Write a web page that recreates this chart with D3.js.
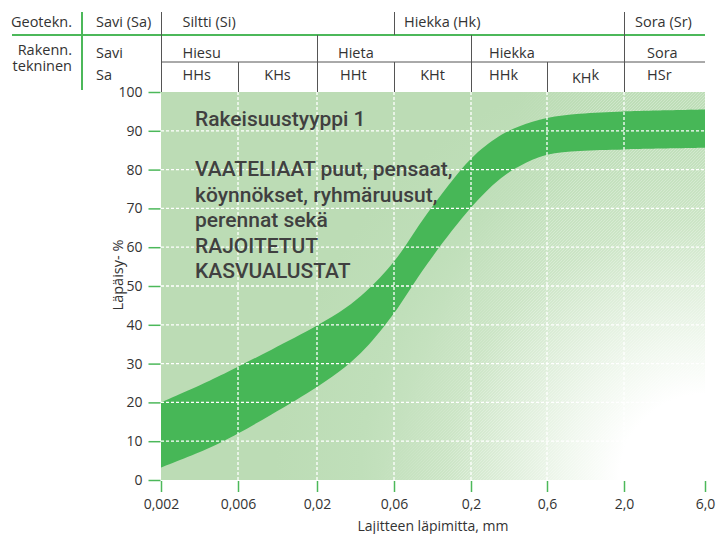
<!DOCTYPE html>
<html>
<head>
<meta charset="utf-8">
<script src="https://cdn.jsdelivr.net/npm/d3@7/dist/d3.min.js"></script>
<style>
body { margin: 0; background: #fff; }
svg text { font-family: "Open Sans", sans-serif; fill: #333; }
.info { font-family: Roboto, sans-serif; font-size: 21px; font-weight: 500; fill: #404040; }
</style>
</head>
<body>
<div class="chart"></div>
<script>
var width = 718;
var height = 534;

// grain size (mm) and passing percent for the band edges
var sizes = [0.002, 0.004, 0.006, 0.01, 0.02, 0.03, 0.04, 0.06, 0.1, 0.2, 0.3, 0.4, 0.6, 1, 2, 6];
var upper = [20, 25.6, 29.2, 33.6, 39.8, 44.3, 48.5, 56.3, 68.5, 82.8, 88.6, 91.1, 93.3, 94.4, 95, 95.5];
var lower = [3.2, 8.3, 12, 16.9, 24, 29.2, 34, 43, 55.5, 70.2, 77.4, 80.8, 83.8, 84.8, 85.2, 85.6];

var xTicks = [0.002, 0.006, 0.02, 0.06, 0.2, 0.6, 2, 6];
var xTickLabels = ["0,002", "0,006", "0,02", "0,06", "0,2", "0,6", "2,0", "6,0"];
var yTicks = [0, 10, 20, 30, 40, 50, 60, 70, 80, 90, 100];

var geoRow = [
	["Siltti (Si)", 0.002, 0.06],
	["Hiekka (Hk)", 0.06, 2],
	["Sora (Sr)", 2, 6]
];
var rakRow = [
	["Hiesu", 0.002, 0.02],
	["Hieta", 0.02, 0.2],
	["Hiekka", 0.2, 2],
	["Sora", 2, 6]
];
var subRow = [
	["HHs", 0.002, 0.006],
	["KHs", 0.006, 0.02],
	["HHt", 0.02, 0.06],
	["KHt", 0.06, 0.2],
	["HHk", 0.2, 0.6],
	["KHk", 0.6, 2],
	["HSr", 2, 6]
];

var infoLines = [
	"Rakeisuustyyppi 1",
	"",
	"VAATELIAAT puut, pensaat,",
	"köynnökset, ryhmäruusut,",
	"perennat sekä",
	"RAJOITETUT",
	"KASVUALUSTAT"
];

var green = "#4cb85a";
var band = "#47b757";
var grey = "#555";

var svg = d3.select(".chart").append("svg")
	.attr("width", width)
	.attr("height", height);

var x = d3.scaleLog()
	.domain(xTicks)
	.range([161, 238, 317, 394, 471, 547, 624, 705]);

var y = d3.scaleLinear()
	.domain([0, 100])
	.range([480, 92]);

var x0 = x(0.002), x1 = x(6);

var defs = svg.append("defs");
var grad = defs.append("radialGradient")
	.attr("id", "bg")
	.attr("gradientUnits", "userSpaceOnUse")
	.attr("cx", x1).attr("cy", y(0)).attr("r", 430);
[[0, "#ffffff"], [0.2, "#ffffff"], [0.32, "#f1f8ef"], [0.45, "#e0efdc"], [0.6, "#cce5c6"], [0.8, "#c0dfba"], [1, "#bcdcb5"]]
	.forEach(function(s) {
		grad.append("stop").attr("offset", s[0]).attr("stop-color", s[1]);
	});

// faint hatching in the lower right part
var hatch = defs.append("pattern")
	.attr("id", "hatch")
	.attr("patternUnits", "userSpaceOnUse")
	.attr("width", 3).attr("height", 3);
hatch.append("path")
	.attr("d", "M-1,1 l2,-2 M0,3 l3,-3 M2,4 l2,-2")
	.attr("stroke", "#fff")
	.attr("stroke-width", 0.6)
	.attr("stroke-opacity", 0.45);

var mg = defs.append("linearGradient")
	.attr("id", "hatchFade")
	.attr("gradientUnits", "userSpaceOnUse")
	.attr("x1", 440).attr("y1", 300).attr("x2", 520).attr("y2", 330);
mg.append("stop").attr("offset", 0).attr("stop-color", "#000");
mg.append("stop").attr("offset", 1).attr("stop-color", "#fff");
defs.append("mask").attr("id", "hatchMask")
	.append("rect")
		.attr("x", x0).attr("y", y(100))
		.attr("width", x1 - x0).attr("height", y(0) - y(100))
		.attr("fill", "url(#hatchFade)");

svg.append("rect")
	.attr("x", x0)
	.attr("y", y(100))
	.attr("width", x1 - x0)
	.attr("height", y(0) - y(100))
	.attr("fill", "url(#bg)");

svg.append("rect")
	.attr("x", x0)
	.attr("y", y(100))
	.attr("width", x1 - x0)
	.attr("height", y(0) - y(100))
	.attr("fill", "url(#hatch)")
	.attr("mask", "url(#hatchMask)");

var bandData = sizes.map(function(s, i) { return {s: s, lo: lower[i], hi: upper[i]}; });

var area = d3.area()
	.x(function(d) { return x(d.s); })
	.y0(function(d) { return y(d.lo); })
	.y1(function(d) { return y(d.hi); })
	.curve(d3.curveCatmullRom.alpha(0.5));

svg.append("path")
	.datum(bandData)
	.attr("d", area)
	.attr("fill", band);

// grid
svg.append("g").selectAll("line")
	.data(xTicks.slice(1, -1))
	.enter().append("line")
		.attr("x1", function(d) { return x(d); })
		.attr("x2", function(d) { return x(d); })
		.attr("y1", y(100))
		.attr("y2", y(0))
		.attr("stroke", "#fff")
		.attr("stroke-width", 1.3)
		.attr("stroke-dasharray", "3,2");

svg.append("g").selectAll("line")
	.data(yTicks.slice(1, -1))
	.enter().append("line")
		.attr("x1", x0)
		.attr("x2", x1)
		.attr("y1", function(d) { return y(d); })
		.attr("y2", function(d) { return y(d); })
		.attr("stroke", "#fff")
		.attr("stroke-width", 1.3)
		.attr("stroke-dasharray", "3,2");

// axes
var yAxis = d3.axisLeft(y).tickValues(yTicks).tickSize(12).tickPadding(6);
var gy = svg.append("g")
	.attr("transform", "translate(" + (x0 - 0.5) + ",0)")
	.call(yAxis);
gy.select(".domain").remove();
gy.selectAll("line").attr("stroke", green).attr("stroke-width", 1.5);
gy.selectAll("text").attr("font-size", 14).attr("fill", "#333").attr("font-family", "Open Sans");

var xAxis = d3.axisBottom(x).tickValues(xTicks).tickFormat(function(d, i) { return xTickLabels[i]; }).tickSize(11).tickPadding(7);
var gx = svg.append("g")
	.attr("transform", "translate(0," + (y(0) + 1) + ")")
	.call(xAxis);
gx.select(".domain").remove();
gx.selectAll("line").attr("stroke", green).attr("stroke-width", 1.5);
gx.selectAll("text").attr("font-size", 14).attr("fill", "#333").attr("font-family", "Open Sans");

svg.append("text")
	.attr("x", 433)
	.attr("y", 531)
	.attr("text-anchor", "middle")
	.attr("font-size", 14)
	.text("Lajitteen läpimitta, mm");

svg.append("text")
	.attr("transform", "translate(123,275) rotate(-90)")
	.attr("text-anchor", "middle")
	.attr("font-size", 14.5)
	.text("Läpäisy- %");

// info text
svg.append("g").selectAll("text")
	.data(infoLines)
	.enter().append("text")
		.attr("class", "info")
		.attr("x", 195)
		.attr("y", function(d, i) { return 125.5 + i * 25.4; })
		.text(function(d) { return d; });

// header table
var head = svg.append("g").attr("font-size", 14.5);
var rowTop = 12, row1 = 35, row2 = 62, rowBot = 92;

head.append("line").attr("x1", 12).attr("x2", x1).attr("y1", row1).attr("y2", row1)
	.attr("stroke", green).attr("stroke-width", 2);
head.append("line").attr("x1", 82).attr("x2", 82).attr("y1", rowTop).attr("y2", 90)
	.attr("stroke", green).attr("stroke-width", 2);
head.append("line").attr("x1", x0).attr("x2", x1).attr("y1", row2).attr("y2", row2)
	.attr("stroke", grey).attr("stroke-width", 1);

function cellLines(rows, y1, y2) {
	head.append("g").selectAll("line")
		.data(rows)
		.enter().append("line")
			.attr("x1", function(d) { return Math.round(x(d[1])) + 0.5; })
			.attr("x2", function(d) { return Math.round(x(d[1])) + 0.5; })
			.attr("y1", y1)
			.attr("y2", y2)
			.attr("stroke", grey)
			.attr("stroke-width", 1);
}
cellLines(geoRow, rowTop, row1);
cellLines(rakRow, row1, row2);
cellLines(subRow, row2, rowBot);

function cellText(rows, base, pad) {
	head.append("g").selectAll("text")
		.data(rows)
		.enter().append("text")
			.attr("x", function(d, i) {
				if (pad[i] == null) return (x(d[1]) + x(d[2])) / 2;
				return x(d[1]) + pad[i];
			})
			.attr("y", base)
			.attr("text-anchor", function(d, i) { return pad[i] == null ? "middle" : "start"; })
			.each(function(d) {
				var t = d3.select(this);
				if (d[0] == "KHk") {
					t.append("tspan").attr("dy", 3).text("KH");
					t.append("tspan").attr("dy", -3).text("k");
				} else {
					t.text(d[0]);
				}
			});
}
cellText(geoRow, 26.5, [21.5, 10, 11]);
cellText(rakRow, 57.5, [21.5, 21, 18, 23]);
cellText(subRow, 80, [21.5, null, 23, null, 18, null, 23]);

head.append("text").attr("x", 72).attr("y", 26.5).attr("text-anchor", "end").text("Geotekn.");
head.append("text").attr("x", 72).attr("y", 54.5).attr("text-anchor", "end").text("Rakenn.");
head.append("text").attr("x", 72).attr("y", 71).attr("text-anchor", "end").text("tekninen");
head.append("text").attr("x", 96).attr("y", 26.5).text("Savi (Sa)");
head.append("text").attr("x", 96).attr("y", 57.5).text("Savi");
head.append("text").attr("x", 96).attr("y", 80).text("Sa");
</script>
</body>
</html>
